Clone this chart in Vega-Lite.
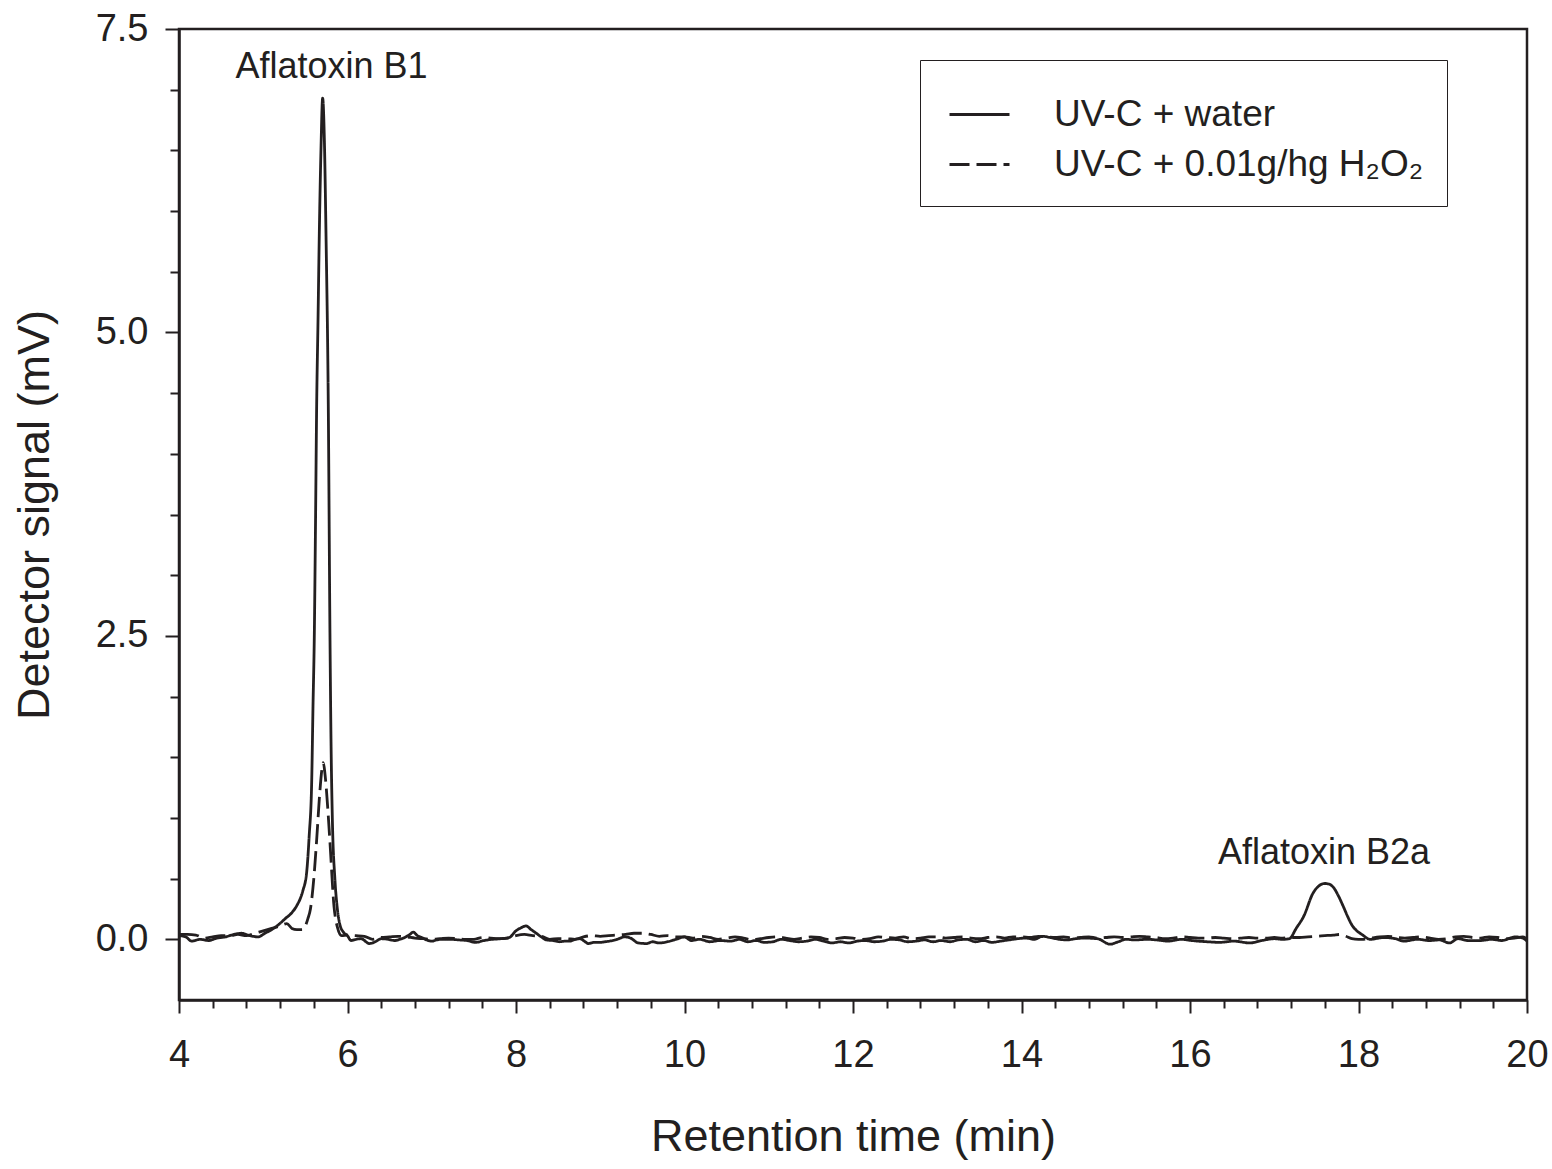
{
  "$schema": "https://vega.github.io/schema/vega-lite/v6.json",
  "width": 1348,
  "height": 971,
  "autosize": {"type": "none"},
  "padding": {"left": 179, "top": 29, "right": 25, "bottom": 169},
  "background": "white",
  "config": {
    "font": "Liberation Sans",
    "view": {"stroke": "#231f20", "strokeWidth": 2.5},
    "axis": {
      "grid": false,
      "domainColor": "#231f20",
      "domainWidth": 2.5,
      "tickColor": "#231f20",
      "tickWidth": 2,
      "labelColor": "#231f20",
      "titleColor": "#231f20",
      "labelFont": "Liberation Sans",
      "titleFont": "Liberation Sans",
      "titleFontWeight": "normal"
    },
    "legend": {"labelFont": "Liberation Sans"}
  },
  "datasets": {
    "trace": [
      {"t":4.00,"v":0.03,"s":"UV-C + water"},{"t":4.08,"v":0.02,"s":"UV-C + water"},{"t":4.15,"v":-0.015,"s":"UV-C + water"},{"t":4.25,"v":0.0,"s":"UV-C + water"},{"t":4.35,"v":-0.01,"s":"UV-C + water"},{"t":4.45,"v":0.01,"s":"UV-C + water"},{"t":4.55,"v":0.02,"s":"UV-C + water"},{"t":4.65,"v":0.04,"s":"UV-C + water"},{"t":4.74,"v":0.05,"s":"UV-C + water"},{"t":4.84,"v":0.03,"s":"UV-C + water"},{"t":4.94,"v":0.02,"s":"UV-C + water"},{"t":5.02,"v":0.05,"s":"UV-C + water"},{"t":5.10,"v":0.08,"s":"UV-C + water"},{"t":5.18,"v":0.12,"s":"UV-C + water"},{"t":5.26,"v":0.17,"s":"UV-C + water"},{"t":5.34,"v":0.22,"s":"UV-C + water"},{"t":5.40,"v":0.28,"s":"UV-C + water"},{"t":5.47,"v":0.40,"s":"UV-C + water"},{"t":5.515,"v":0.55,"s":"UV-C + water"},{"t":5.545,"v":0.85,"s":"UV-C + water"},{"t":5.575,"v":1.3,"s":"UV-C + water"},{"t":5.59,"v":1.9,"s":"UV-C + water"},{"t":5.606,"v":2.5,"s":"UV-C + water"},{"t":5.62,"v":3.4,"s":"UV-C + water"},{"t":5.634,"v":4.4,"s":"UV-C + water"},{"t":5.65,"v":5.1,"s":"UV-C + water"},{"t":5.665,"v":5.8,"s":"UV-C + water"},{"t":5.685,"v":6.5,"s":"UV-C + water"},{"t":5.705,"v":6.93,"s":"UV-C + water"},{"t":5.725,"v":6.6,"s":"UV-C + water"},{"t":5.745,"v":5.8,"s":"UV-C + water"},{"t":5.772,"v":4.4,"s":"UV-C + water"},{"t":5.792,"v":2.5,"s":"UV-C + water"},{"t":5.805,"v":1.6,"s":"UV-C + water"},{"t":5.82,"v":1.0,"s":"UV-C + water"},{"t":5.85,"v":0.5,"s":"UV-C + water"},{"t":5.875,"v":0.28,"s":"UV-C + water"},{"t":5.91,"v":0.12,"s":"UV-C + water"},{"t":5.95,"v":0.06,"s":"UV-C + water"},{"t":6.00,"v":0.03,"s":"UV-C + water"},{"t":6.04,"v":-0.01,"s":"UV-C + water"},{"t":6.10,"v":0.0,"s":"UV-C + water"},{"t":6.16,"v":0.005,"s":"UV-C + water"},{"t":6.26,"v":-0.035,"s":"UV-C + water"},{"t":6.33,"v":-0.02,"s":"UV-C + water"},{"t":6.40,"v":0.005,"s":"UV-C + water"},{"t":6.48,"v":0.0,"s":"UV-C + water"},{"t":6.56,"v":-0.01,"s":"UV-C + water"},{"t":6.62,"v":0.0,"s":"UV-C + water"},{"t":6.68,"v":0.015,"s":"UV-C + water"},{"t":6.74,"v":0.04,"s":"UV-C + water"},{"t":6.78,"v":0.06,"s":"UV-C + water"},{"t":6.83,"v":0.03,"s":"UV-C + water"},{"t":6.88,"v":0.015,"s":"UV-C + water"},{"t":6.94,"v":-0.005,"s":"UV-C + water"},{"t":7.00,"v":-0.015,"s":"UV-C + water"},{"t":7.06,"v":-0.005,"s":"UV-C + water"},{"t":7.12,"v":0.0,"s":"UV-C + water"},{"t":7.22,"v":0.0,"s":"UV-C + water"},{"t":7.32,"v":-0.005,"s":"UV-C + water"},{"t":7.42,"v":-0.01,"s":"UV-C + water"},{"t":7.52,"v":-0.025,"s":"UV-C + water"},{"t":7.62,"v":-0.01,"s":"UV-C + water"},{"t":7.72,"v":0.0,"s":"UV-C + water"},{"t":7.82,"v":0.005,"s":"UV-C + water"},{"t":7.92,"v":0.015,"s":"UV-C + water"},{"t":8.00,"v":0.07,"s":"UV-C + water"},{"t":8.06,"v":0.095,"s":"UV-C + water"},{"t":8.12,"v":0.11,"s":"UV-C + water"},{"t":8.18,"v":0.08,"s":"UV-C + water"},{"t":8.24,"v":0.05,"s":"UV-C + water"},{"t":8.30,"v":0.02,"s":"UV-C + water"},{"t":8.36,"v":-0.005,"s":"UV-C + water"},{"t":8.44,"v":-0.01,"s":"UV-C + water"},{"t":8.52,"v":-0.02,"s":"UV-C + water"},{"t":8.58,"v":-0.015,"s":"UV-C + water"},{"t":8.64,"v":-0.015,"s":"UV-C + water"},{"t":8.70,"v":0.0,"s":"UV-C + water"},{"t":8.76,"v":0.005,"s":"UV-C + water"},{"t":8.82,"v":-0.02,"s":"UV-C + water"},{"t":8.86,"v":-0.035,"s":"UV-C + water"},{"t":8.93,"v":-0.025,"s":"UV-C + water"},{"t":9.00,"v":-0.025,"s":"UV-C + water"},{"t":9.06,"v":-0.02,"s":"UV-C + water"},{"t":9.11,"v":-0.015,"s":"UV-C + water"},{"t":9.20,"v":0.0,"s":"UV-C + water"},{"t":9.29,"v":0.02,"s":"UV-C + water"},{"t":9.36,"v":0.01,"s":"UV-C + water"},{"t":9.45,"v":-0.03,"s":"UV-C + water"},{"t":9.55,"v":-0.035,"s":"UV-C + water"},{"t":9.62,"v":-0.02,"s":"UV-C + water"},{"t":9.70,"v":-0.03,"s":"UV-C + water"},{"t":9.80,"v":-0.02,"s":"UV-C + water"},{"t":9.90,"v":0.0,"s":"UV-C + water"},{"t":10.00,"v":0.02,"s":"UV-C + water"},{"t":10.08,"v":-0.01,"s":"UV-C + water"},{"t":10.18,"v":0.0,"s":"UV-C + water"},{"t":10.30,"v":-0.02,"s":"UV-C + water"},{"t":10.42,"v":-0.01,"s":"UV-C + water"},{"t":10.55,"v":-0.015,"s":"UV-C + water"},{"t":10.65,"v":0.0,"s":"UV-C + water"},{"t":10.75,"v":-0.02,"s":"UV-C + water"},{"t":10.85,"v":-0.01,"s":"UV-C + water"},{"t":10.95,"v":-0.025,"s":"UV-C + water"},{"t":11.05,"v":-0.02,"s":"UV-C + water"},{"t":11.15,"v":0.0,"s":"UV-C + water"},{"t":11.25,"v":-0.01,"s":"UV-C + water"},{"t":11.35,"v":-0.02,"s":"UV-C + water"},{"t":11.45,"v":-0.015,"s":"UV-C + water"},{"t":11.55,"v":0.0,"s":"UV-C + water"},{"t":11.65,"v":-0.015,"s":"UV-C + water"},{"t":11.75,"v":-0.03,"s":"UV-C + water"},{"t":11.85,"v":-0.02,"s":"UV-C + water"},{"t":11.95,"v":-0.03,"s":"UV-C + water"},{"t":12.05,"v":-0.015,"s":"UV-C + water"},{"t":12.15,"v":-0.01,"s":"UV-C + water"},{"t":12.25,"v":-0.02,"s":"UV-C + water"},{"t":12.35,"v":-0.015,"s":"UV-C + water"},{"t":12.45,"v":0.0,"s":"UV-C + water"},{"t":12.55,"v":-0.005,"s":"UV-C + water"},{"t":12.65,"v":-0.02,"s":"UV-C + water"},{"t":12.75,"v":-0.015,"s":"UV-C + water"},{"t":12.85,"v":-0.005,"s":"UV-C + water"},{"t":12.95,"v":-0.02,"s":"UV-C + water"},{"t":13.05,"v":-0.01,"s":"UV-C + water"},{"t":13.15,"v":-0.02,"s":"UV-C + water"},{"t":13.25,"v":-0.005,"s":"UV-C + water"},{"t":13.35,"v":0.0,"s":"UV-C + water"},{"t":13.45,"v":-0.02,"s":"UV-C + water"},{"t":13.55,"v":-0.01,"s":"UV-C + water"},{"t":13.65,"v":-0.025,"s":"UV-C + water"},{"t":13.75,"v":-0.015,"s":"UV-C + water"},{"t":13.85,"v":-0.005,"s":"UV-C + water"},{"t":13.95,"v":0.005,"s":"UV-C + water"},{"t":14.05,"v":0.01,"s":"UV-C + water"},{"t":14.15,"v":0.0,"s":"UV-C + water"},{"t":14.25,"v":0.025,"s":"UV-C + water"},{"t":14.34,"v":0.015,"s":"UV-C + water"},{"t":14.45,"v":0.0,"s":"UV-C + water"},{"t":14.54,"v":-0.005,"s":"UV-C + water"},{"t":14.64,"v":0.005,"s":"UV-C + water"},{"t":14.75,"v":0.01,"s":"UV-C + water"},{"t":14.90,"v":0.005,"s":"UV-C + water"},{"t":15.05,"v":-0.04,"s":"UV-C + water"},{"t":15.15,"v":-0.02,"s":"UV-C + water"},{"t":15.24,"v":0.0,"s":"UV-C + water"},{"t":15.34,"v":-0.005,"s":"UV-C + water"},{"t":15.50,"v":0.0,"s":"UV-C + water"},{"t":15.60,"v":-0.005,"s":"UV-C + water"},{"t":15.74,"v":-0.015,"s":"UV-C + water"},{"t":15.90,"v":0.0,"s":"UV-C + water"},{"t":16.02,"v":-0.01,"s":"UV-C + water"},{"t":16.20,"v":-0.02,"s":"UV-C + water"},{"t":16.35,"v":-0.025,"s":"UV-C + water"},{"t":16.52,"v":-0.015,"s":"UV-C + water"},{"t":16.71,"v":-0.03,"s":"UV-C + water"},{"t":16.85,"v":-0.01,"s":"UV-C + water"},{"t":17.00,"v":0.005,"s":"UV-C + water"},{"t":17.10,"v":0.0,"s":"UV-C + water"},{"t":17.18,"v":0.005,"s":"UV-C + water"},{"t":17.26,"v":0.09,"s":"UV-C + water"},{"t":17.35,"v":0.19,"s":"UV-C + water"},{"t":17.46,"v":0.38,"s":"UV-C + water"},{"t":17.53,"v":0.44,"s":"UV-C + water"},{"t":17.60,"v":0.46,"s":"UV-C + water"},{"t":17.65,"v":0.455,"s":"UV-C + water"},{"t":17.70,"v":0.43,"s":"UV-C + water"},{"t":17.76,"v":0.36,"s":"UV-C + water"},{"t":17.82,"v":0.27,"s":"UV-C + water"},{"t":17.87,"v":0.19,"s":"UV-C + water"},{"t":17.92,"v":0.12,"s":"UV-C + water"},{"t":17.98,"v":0.07,"s":"UV-C + water"},{"t":18.04,"v":0.04,"s":"UV-C + water"},{"t":18.14,"v":0.0,"s":"UV-C + water"},{"t":18.30,"v":0.015,"s":"UV-C + water"},{"t":18.44,"v":0.005,"s":"UV-C + water"},{"t":18.54,"v":-0.015,"s":"UV-C + water"},{"t":18.70,"v":0.0,"s":"UV-C + water"},{"t":18.84,"v":-0.01,"s":"UV-C + water"},{"t":18.96,"v":-0.005,"s":"UV-C + water"},{"t":19.08,"v":-0.03,"s":"UV-C + water"},{"t":19.18,"v":0.005,"s":"UV-C + water"},{"t":19.30,"v":-0.01,"s":"UV-C + water"},{"t":19.45,"v":-0.01,"s":"UV-C + water"},{"t":19.58,"v":0.0,"s":"UV-C + water"},{"t":19.70,"v":-0.01,"s":"UV-C + water"},{"t":19.86,"v":0.02,"s":"UV-C + water"},{"t":19.95,"v":0.01,"s":"UV-C + water"},{"t":20.00,"v":-0.015,"s":"UV-C + water"},

      {"t":4.00,"v":0.04,"s":"UV-C + 0.01g/hg H₂O₂"},{"t":4.10,"v":0.04,"s":"UV-C + 0.01g/hg H₂O₂"},{"t":4.20,"v":0.035,"s":"UV-C + 0.01g/hg H₂O₂"},{"t":4.30,"v":0.01,"s":"UV-C + 0.01g/hg H₂O₂"},{"t":4.40,"v":0.02,"s":"UV-C + 0.01g/hg H₂O₂"},{"t":4.50,"v":0.03,"s":"UV-C + 0.01g/hg H₂O₂"},{"t":4.60,"v":0.03,"s":"UV-C + 0.01g/hg H₂O₂"},{"t":4.70,"v":0.04,"s":"UV-C + 0.01g/hg H₂O₂"},{"t":4.80,"v":0.03,"s":"UV-C + 0.01g/hg H₂O₂"},{"t":4.90,"v":0.05,"s":"UV-C + 0.01g/hg H₂O₂"},{"t":5.00,"v":0.07,"s":"UV-C + 0.01g/hg H₂O₂"},{"t":5.10,"v":0.09,"s":"UV-C + 0.01g/hg H₂O₂"},{"t":5.20,"v":0.11,"s":"UV-C + 0.01g/hg H₂O₂"},{"t":5.28,"v":0.13,"s":"UV-C + 0.01g/hg H₂O₂"},{"t":5.34,"v":0.09,"s":"UV-C + 0.01g/hg H₂O₂"},{"t":5.40,"v":0.08,"s":"UV-C + 0.01g/hg H₂O₂"},{"t":5.46,"v":0.08,"s":"UV-C + 0.01g/hg H₂O₂"},{"t":5.50,"v":0.11,"s":"UV-C + 0.01g/hg H₂O₂"},{"t":5.53,"v":0.17,"s":"UV-C + 0.01g/hg H₂O₂"},{"t":5.56,"v":0.25,"s":"UV-C + 0.01g/hg H₂O₂"},{"t":5.60,"v":0.5,"s":"UV-C + 0.01g/hg H₂O₂"},{"t":5.634,"v":0.82,"s":"UV-C + 0.01g/hg H₂O₂"},{"t":5.67,"v":1.2,"s":"UV-C + 0.01g/hg H₂O₂"},{"t":5.70,"v":1.42,"s":"UV-C + 0.01g/hg H₂O₂"},{"t":5.713,"v":1.455,"s":"UV-C + 0.01g/hg H₂O₂"},{"t":5.73,"v":1.38,"s":"UV-C + 0.01g/hg H₂O₂"},{"t":5.75,"v":1.23,"s":"UV-C + 0.01g/hg H₂O₂"},{"t":5.79,"v":0.82,"s":"UV-C + 0.01g/hg H₂O₂"},{"t":5.84,"v":0.27,"s":"UV-C + 0.01g/hg H₂O₂"},{"t":5.88,"v":0.10,"s":"UV-C + 0.01g/hg H₂O₂"},{"t":5.93,"v":0.03,"s":"UV-C + 0.01g/hg H₂O₂"},{"t":6.00,"v":0.035,"s":"UV-C + 0.01g/hg H₂O₂"},{"t":6.10,"v":0.03,"s":"UV-C + 0.01g/hg H₂O₂"},{"t":6.20,"v":0.025,"s":"UV-C + 0.01g/hg H₂O₂"},{"t":6.30,"v":0.0,"s":"UV-C + 0.01g/hg H₂O₂"},{"t":6.40,"v":0.015,"s":"UV-C + 0.01g/hg H₂O₂"},{"t":6.50,"v":0.02,"s":"UV-C + 0.01g/hg H₂O₂"},{"t":6.60,"v":0.025,"s":"UV-C + 0.01g/hg H₂O₂"},{"t":6.70,"v":0.02,"s":"UV-C + 0.01g/hg H₂O₂"},{"t":6.80,"v":0.01,"s":"UV-C + 0.01g/hg H₂O₂"},{"t":6.90,"v":0.005,"s":"UV-C + 0.01g/hg H₂O₂"},{"t":7.00,"v":0.0,"s":"UV-C + 0.01g/hg H₂O₂"},{"t":7.10,"v":0.005,"s":"UV-C + 0.01g/hg H₂O₂"},{"t":7.20,"v":0.01,"s":"UV-C + 0.01g/hg H₂O₂"},{"t":7.30,"v":0.005,"s":"UV-C + 0.01g/hg H₂O₂"},{"t":7.40,"v":0.0,"s":"UV-C + 0.01g/hg H₂O₂"},{"t":7.50,"v":0.0,"s":"UV-C + 0.01g/hg H₂O₂"},{"t":7.60,"v":0.015,"s":"UV-C + 0.01g/hg H₂O₂"},{"t":7.70,"v":0.01,"s":"UV-C + 0.01g/hg H₂O₂"},{"t":7.80,"v":0.005,"s":"UV-C + 0.01g/hg H₂O₂"},{"t":7.90,"v":0.01,"s":"UV-C + 0.01g/hg H₂O₂"},{"t":8.00,"v":0.03,"s":"UV-C + 0.01g/hg H₂O₂"},{"t":8.10,"v":0.04,"s":"UV-C + 0.01g/hg H₂O₂"},{"t":8.20,"v":0.03,"s":"UV-C + 0.01g/hg H₂O₂"},{"t":8.30,"v":0.025,"s":"UV-C + 0.01g/hg H₂O₂"},{"t":8.40,"v":0.0,"s":"UV-C + 0.01g/hg H₂O₂"},{"t":8.50,"v":0.005,"s":"UV-C + 0.01g/hg H₂O₂"},{"t":8.60,"v":0.005,"s":"UV-C + 0.01g/hg H₂O₂"},{"t":8.70,"v":0.0,"s":"UV-C + 0.01g/hg H₂O₂"},{"t":8.80,"v":0.02,"s":"UV-C + 0.01g/hg H₂O₂"},{"t":8.90,"v":0.03,"s":"UV-C + 0.01g/hg H₂O₂"},{"t":9.00,"v":0.025,"s":"UV-C + 0.01g/hg H₂O₂"},{"t":9.10,"v":0.03,"s":"UV-C + 0.01g/hg H₂O₂"},{"t":9.20,"v":0.035,"s":"UV-C + 0.01g/hg H₂O₂"},{"t":9.30,"v":0.04,"s":"UV-C + 0.01g/hg H₂O₂"},{"t":9.40,"v":0.05,"s":"UV-C + 0.01g/hg H₂O₂"},{"t":9.50,"v":0.05,"s":"UV-C + 0.01g/hg H₂O₂"},{"t":9.60,"v":0.04,"s":"UV-C + 0.01g/hg H₂O₂"},{"t":9.70,"v":0.025,"s":"UV-C + 0.01g/hg H₂O₂"},{"t":9.80,"v":0.03,"s":"UV-C + 0.01g/hg H₂O₂"},{"t":9.90,"v":0.02,"s":"UV-C + 0.01g/hg H₂O₂"},{"t":10.00,"v":0.02,"s":"UV-C + 0.01g/hg H₂O₂"},{"t":10.10,"v":0.01,"s":"UV-C + 0.01g/hg H₂O₂"},{"t":10.20,"v":0.025,"s":"UV-C + 0.01g/hg H₂O₂"},{"t":10.30,"v":0.015,"s":"UV-C + 0.01g/hg H₂O₂"},{"t":10.40,"v":0.0,"s":"UV-C + 0.01g/hg H₂O₂"},{"t":10.50,"v":0.01,"s":"UV-C + 0.01g/hg H₂O₂"},{"t":10.60,"v":0.02,"s":"UV-C + 0.01g/hg H₂O₂"},{"t":10.70,"v":0.01,"s":"UV-C + 0.01g/hg H₂O₂"},{"t":10.80,"v":-0.005,"s":"UV-C + 0.01g/hg H₂O₂"},{"t":10.90,"v":0.005,"s":"UV-C + 0.01g/hg H₂O₂"},{"t":11.00,"v":0.015,"s":"UV-C + 0.01g/hg H₂O₂"},{"t":11.10,"v":0.02,"s":"UV-C + 0.01g/hg H₂O₂"},{"t":11.20,"v":0.01,"s":"UV-C + 0.01g/hg H₂O₂"},{"t":11.30,"v":0.0,"s":"UV-C + 0.01g/hg H₂O₂"},{"t":11.40,"v":0.01,"s":"UV-C + 0.01g/hg H₂O₂"},{"t":11.50,"v":0.02,"s":"UV-C + 0.01g/hg H₂O₂"},{"t":11.60,"v":0.015,"s":"UV-C + 0.01g/hg H₂O₂"},{"t":11.70,"v":0.0,"s":"UV-C + 0.01g/hg H₂O₂"},{"t":11.80,"v":0.005,"s":"UV-C + 0.01g/hg H₂O₂"},{"t":11.90,"v":0.015,"s":"UV-C + 0.01g/hg H₂O₂"},{"t":12.00,"v":0.01,"s":"UV-C + 0.01g/hg H₂O₂"},{"t":12.10,"v":0.0,"s":"UV-C + 0.01g/hg H₂O₂"},{"t":12.20,"v":0.005,"s":"UV-C + 0.01g/hg H₂O₂"},{"t":12.30,"v":0.02,"s":"UV-C + 0.01g/hg H₂O₂"},{"t":12.40,"v":0.015,"s":"UV-C + 0.01g/hg H₂O₂"},{"t":12.50,"v":0.01,"s":"UV-C + 0.01g/hg H₂O₂"},{"t":12.60,"v":0.02,"s":"UV-C + 0.01g/hg H₂O₂"},{"t":12.70,"v":0.005,"s":"UV-C + 0.01g/hg H₂O₂"},{"t":12.80,"v":0.01,"s":"UV-C + 0.01g/hg H₂O₂"},{"t":12.90,"v":0.02,"s":"UV-C + 0.01g/hg H₂O₂"},{"t":13.00,"v":0.02,"s":"UV-C + 0.01g/hg H₂O₂"},{"t":13.10,"v":0.01,"s":"UV-C + 0.01g/hg H₂O₂"},{"t":13.20,"v":0.015,"s":"UV-C + 0.01g/hg H₂O₂"},{"t":13.30,"v":0.02,"s":"UV-C + 0.01g/hg H₂O₂"},{"t":13.40,"v":0.01,"s":"UV-C + 0.01g/hg H₂O₂"},{"t":13.50,"v":0.005,"s":"UV-C + 0.01g/hg H₂O₂"},{"t":13.60,"v":0.015,"s":"UV-C + 0.01g/hg H₂O₂"},{"t":13.70,"v":0.02,"s":"UV-C + 0.01g/hg H₂O₂"},{"t":13.80,"v":0.01,"s":"UV-C + 0.01g/hg H₂O₂"},{"t":13.90,"v":0.02,"s":"UV-C + 0.01g/hg H₂O₂"},{"t":14.00,"v":0.02,"s":"UV-C + 0.01g/hg H₂O₂"},{"t":14.10,"v":0.015,"s":"UV-C + 0.01g/hg H₂O₂"},{"t":14.20,"v":0.025,"s":"UV-C + 0.01g/hg H₂O₂"},{"t":14.30,"v":0.02,"s":"UV-C + 0.01g/hg H₂O₂"},{"t":14.40,"v":0.015,"s":"UV-C + 0.01g/hg H₂O₂"},{"t":14.50,"v":0.02,"s":"UV-C + 0.01g/hg H₂O₂"},{"t":14.60,"v":0.01,"s":"UV-C + 0.01g/hg H₂O₂"},{"t":14.70,"v":0.015,"s":"UV-C + 0.01g/hg H₂O₂"},{"t":14.80,"v":0.02,"s":"UV-C + 0.01g/hg H₂O₂"},{"t":14.90,"v":0.01,"s":"UV-C + 0.01g/hg H₂O₂"},{"t":15.00,"v":0.015,"s":"UV-C + 0.01g/hg H₂O₂"},{"t":15.10,"v":0.02,"s":"UV-C + 0.01g/hg H₂O₂"},{"t":15.20,"v":0.015,"s":"UV-C + 0.01g/hg H₂O₂"},{"t":15.30,"v":0.02,"s":"UV-C + 0.01g/hg H₂O₂"},{"t":15.40,"v":0.025,"s":"UV-C + 0.01g/hg H₂O₂"},{"t":15.50,"v":0.02,"s":"UV-C + 0.01g/hg H₂O₂"},{"t":15.60,"v":0.015,"s":"UV-C + 0.01g/hg H₂O₂"},{"t":15.70,"v":0.005,"s":"UV-C + 0.01g/hg H₂O₂"},{"t":15.80,"v":0.01,"s":"UV-C + 0.01g/hg H₂O₂"},{"t":15.90,"v":0.02,"s":"UV-C + 0.01g/hg H₂O₂"},{"t":16.00,"v":0.015,"s":"UV-C + 0.01g/hg H₂O₂"},{"t":16.10,"v":0.01,"s":"UV-C + 0.01g/hg H₂O₂"},{"t":16.20,"v":0.01,"s":"UV-C + 0.01g/hg H₂O₂"},{"t":16.30,"v":0.015,"s":"UV-C + 0.01g/hg H₂O₂"},{"t":16.40,"v":0.01,"s":"UV-C + 0.01g/hg H₂O₂"},{"t":16.50,"v":0.005,"s":"UV-C + 0.01g/hg H₂O₂"},{"t":16.60,"v":0.01,"s":"UV-C + 0.01g/hg H₂O₂"},{"t":16.70,"v":0.015,"s":"UV-C + 0.01g/hg H₂O₂"},{"t":16.80,"v":0.01,"s":"UV-C + 0.01g/hg H₂O₂"},{"t":16.90,"v":0.01,"s":"UV-C + 0.01g/hg H₂O₂"},{"t":17.00,"v":0.015,"s":"UV-C + 0.01g/hg H₂O₂"},{"t":17.10,"v":0.01,"s":"UV-C + 0.01g/hg H₂O₂"},{"t":17.20,"v":0.015,"s":"UV-C + 0.01g/hg H₂O₂"},{"t":17.30,"v":0.015,"s":"UV-C + 0.01g/hg H₂O₂"},{"t":17.40,"v":0.02,"s":"UV-C + 0.01g/hg H₂O₂"},{"t":17.50,"v":0.025,"s":"UV-C + 0.01g/hg H₂O₂"},{"t":17.60,"v":0.03,"s":"UV-C + 0.01g/hg H₂O₂"},{"t":17.70,"v":0.035,"s":"UV-C + 0.01g/hg H₂O₂"},{"t":17.78,"v":0.04,"s":"UV-C + 0.01g/hg H₂O₂"},{"t":17.85,"v":0.025,"s":"UV-C + 0.01g/hg H₂O₂"},{"t":17.92,"v":0.005,"s":"UV-C + 0.01g/hg H₂O₂"},{"t":18.00,"v":0.0,"s":"UV-C + 0.01g/hg H₂O₂"},{"t":18.06,"v":0.0,"s":"UV-C + 0.01g/hg H₂O₂"},{"t":18.15,"v":0.01,"s":"UV-C + 0.01g/hg H₂O₂"},{"t":18.25,"v":0.02,"s":"UV-C + 0.01g/hg H₂O₂"},{"t":18.35,"v":0.025,"s":"UV-C + 0.01g/hg H₂O₂"},{"t":18.45,"v":0.015,"s":"UV-C + 0.01g/hg H₂O₂"},{"t":18.55,"v":0.01,"s":"UV-C + 0.01g/hg H₂O₂"},{"t":18.65,"v":0.015,"s":"UV-C + 0.01g/hg H₂O₂"},{"t":18.75,"v":0.02,"s":"UV-C + 0.01g/hg H₂O₂"},{"t":18.85,"v":0.01,"s":"UV-C + 0.01g/hg H₂O₂"},{"t":18.95,"v":0.0,"s":"UV-C + 0.01g/hg H₂O₂"},{"t":19.05,"v":0.005,"s":"UV-C + 0.01g/hg H₂O₂"},{"t":19.15,"v":0.02,"s":"UV-C + 0.01g/hg H₂O₂"},{"t":19.25,"v":0.025,"s":"UV-C + 0.01g/hg H₂O₂"},{"t":19.35,"v":0.015,"s":"UV-C + 0.01g/hg H₂O₂"},{"t":19.45,"v":0.01,"s":"UV-C + 0.01g/hg H₂O₂"},{"t":19.55,"v":0.02,"s":"UV-C + 0.01g/hg H₂O₂"},{"t":19.65,"v":0.015,"s":"UV-C + 0.01g/hg H₂O₂"},{"t":19.75,"v":0.005,"s":"UV-C + 0.01g/hg H₂O₂"},{"t":19.85,"v":0.01,"s":"UV-C + 0.01g/hg H₂O₂"},{"t":19.95,"v":0.02,"s":"UV-C + 0.01g/hg H₂O₂"},{"t":20.00,"v":0.0,"s":"UV-C + 0.01g/hg H₂O₂"}
    ],
    "labels": [
      {"t": 5.81, "v": 7.10, "label": "Aflatoxin B1"},
      {"t": 17.59, "v": 0.617, "label": "Aflatoxin B2a"}
    ]
  },
  "layer": [
    {
      "data": {"name": "trace"},
      "mark": {"type": "line", "strokeWidth": 2.8, "color": "#231f20", "interpolate": "monotone", "clip": true},
      "encoding": {
        "x": {
          "field": "t", "type": "quantitative",
          "scale": {"domain": [4, 20], "nice": false, "zero": false},
          "axis": {
            "orient": "bottom",
            "values": [4, 6, 8, 10, 12, 14, 16, 18, 20],
            "tickSize": 13,
            "labelFontSize": 38,
            "labelPadding": 23,
            "labelFlush": false,
            "title": "Retention time (min)",
            "titleFontSize": 45,
            "titlePadding": 40
          }
        },
        "y": {
          "field": "v", "type": "quantitative",
          "scale": {"domain": [-0.5, 7.5], "nice": false, "zero": false},
          "axis": {
            "orient": "left",
            "values": [0, 2.5, 5, 7.5],
            "format": ".1f",
            "tickSize": 14,
            "labelFontSize": 38,
            "labelPadding": 17,
            "labelFlush": false,
            "title": "Detector signal (mV)",
            "titleFontSize": 45,
            "titlePadding": 38
          }
        },
        "strokeDash": {
          "field": "s", "type": "nominal",
          "scale": {"domain": ["UV-C + water", "UV-C + 0.01g/hg H₂O₂"], "range": [[1, 0], [20, 7]]},
          "legend": {
            "title": null,
            "orient": "none",
            "legendX": 741,
            "legendY": 31,
            "strokeColor": "#231f20",
            "padding": 23,
            "symbolType": "stroke",
            "symbolSize": 3600,
            "symbolOffset": 5,
            "symbolStrokeWidth": 2.8,
            "symbolStrokeColor": "#231f20",
            "labelFontSize": 37,
            "labelColor": "#231f20",
            "labelOffset": 43,
            "labelLimit": 600,
            "rowPadding": -15
          }
        }
      }
    },
    {
      "data": {"name": "labels"},
      "mark": {"type": "text", "fontSize": 36, "baseline": "alphabetic", "align": "center", "color": "#231f20"},
      "encoding": {
        "x": {
          "field": "t", "type": "quantitative",
          "scale": {"domain": [4, 20], "nice": false, "zero": false},
          "axis": {
            "orient": "bottom",
            "values": [4.4, 4.8, 5.2, 5.6, 6.4, 6.8, 7.2, 7.6, 8.4, 8.8, 9.2, 9.6, 10.4, 10.8, 11.2, 11.6, 12.4, 12.8, 13.2, 13.6, 14.4, 14.8, 15.2, 15.6, 16.4, 16.8, 17.2, 17.6, 18.4, 18.8, 19.2, 19.6],
            "labels": false,
            "domain": false,
            "tickSize": 8,
            "title": null
          }
        },
        "y": {
          "field": "v", "type": "quantitative",
          "scale": {"domain": [-0.5, 7.5], "nice": false, "zero": false},
          "axis": {
            "orient": "left",
            "values": [0.5, 1, 1.5, 2, 3, 3.5, 4, 4.5, 5.5, 6, 6.5, 7],
            "labels": false,
            "domain": false,
            "tickSize": 9,
            "title": null
          }
        },
        "text": {"field": "label"}
      }
    }
  ],
  "resolve": {"axis": {"x": "independent", "y": "independent"}}
}
